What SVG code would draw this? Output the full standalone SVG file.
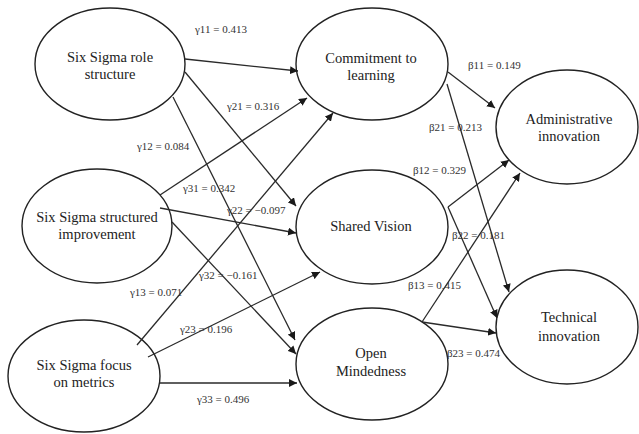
<svg xmlns="http://www.w3.org/2000/svg" width="639" height="434" viewBox="0 0 639 434">
<style>
.node ellipse{fill:#fff;stroke:#222;stroke-width:1.4}
.node text{font-size:14.5px;fill:#222;text-anchor:middle}
.edges line{stroke:#2a2a2a;stroke-width:1.3;marker-end:url(#ah)}
.lbl text{font-size:11px;fill:#333}
</style>
<defs>
<marker id="ah" viewBox="0 0 10 10" refX="10" refY="5" markerWidth="8" markerHeight="8" markerUnits="userSpaceOnUse" orient="auto">
<path d="M0,0 L10,5 L0,10 z" fill="#1a1a1a"/>
</marker>
</defs>
<rect width="639" height="434" fill="#fff"/>
<g id="nodes" font-family="Liberation Serif, DejaVu Serif, serif">
<g id="role" class="node"><ellipse cx="110" cy="64" rx="75" ry="56"/><text x="110" y="62">Six Sigma role</text><text x="110" y="79">structure</text></g>
<g id="structured" class="node"><ellipse cx="97" cy="226" rx="75" ry="57"/><text x="97" y="222">Six Sigma structured</text><text x="97" y="239">improvement</text></g>
<g id="metrics" class="node"><ellipse cx="84" cy="376" rx="76" ry="56"/><text x="84" y="370">Six Sigma focus</text><text x="84" y="387">on metrics</text></g>
<g id="commitment" class="node"><ellipse cx="372" cy="64" rx="76" ry="56"/><text x="371" y="63">Commitment to</text><text x="371" y="80">learning</text></g>
<g id="shared" class="node"><ellipse cx="372" cy="227" rx="76" ry="57"/><text x="371" y="231">Shared Vision</text></g>
<g id="open" class="node"><ellipse cx="372" cy="364" rx="76" ry="56"/><text x="371" y="358">Open</text><text x="371" y="376">Mindedness</text></g>
<g id="admin" class="node"><ellipse cx="567" cy="127" rx="71" ry="57"/><text x="569" y="124">Administrative</text><text x="569" y="141">innovation</text></g>
<g id="technical" class="node"><ellipse cx="567" cy="327" rx="71" ry="57"/><text x="569" y="322">Technical</text><text x="569" y="341">innovation</text></g>
</g>
<g id="connectors" class="edges">
<line x1="185" y1="59" x2="298" y2="71"/>
<line x1="185" y1="72" x2="296" y2="206"/>
<line x1="173" y1="97" x2="295" y2="340"/>
<line x1="160" y1="195" x2="307" y2="98"/>
<line x1="160" y1="208" x2="296" y2="233"/>
<line x1="172" y1="222" x2="296" y2="354"/>
<line x1="137" y1="345" x2="333" y2="113"/>
<line x1="148" y1="357" x2="320" y2="272"/>
<line x1="160" y1="383" x2="297" y2="383"/>
<line x1="448" y1="72" x2="495" y2="108"/>
<line x1="447" y1="84" x2="509" y2="292"/>
<line x1="448" y1="207" x2="509" y2="160"/>
<line x1="448" y1="207" x2="497" y2="318"/>
<line x1="422" y1="322" x2="520" y2="173"/>
<line x1="422" y1="322" x2="496" y2="333"/>
</g>
<g id="labels" class="lbl" font-family="Liberation Serif, DejaVu Serif, serif">
<text x="195" y="33">γ11 = 0.413</text>
<text x="227" y="110">γ21 = 0.316</text>
<text x="137" y="150">γ12 = 0.084</text>
<text x="183" y="192">γ31 = 0.342</text>
<text x="227" y="214">γ22 = −0.097</text>
<text x="199" y="279">γ32 = −0.161</text>
<text x="130" y="296">γ13 = 0.071</text>
<text x="180" y="333">γ23 = 0.196</text>
<text x="197" y="403">γ33 = 0.496</text>
<text x="468" y="69">β11 = 0.149</text>
<text x="429" y="131">β21 = 0.213</text>
<text x="413" y="174">β12 = 0.329</text>
<text x="452" y="239">β22 = 0.181</text>
<text x="408" y="289">β13 = 0.415</text>
<text x="447" y="357">β23 = 0.474</text>
</g>
</svg>
